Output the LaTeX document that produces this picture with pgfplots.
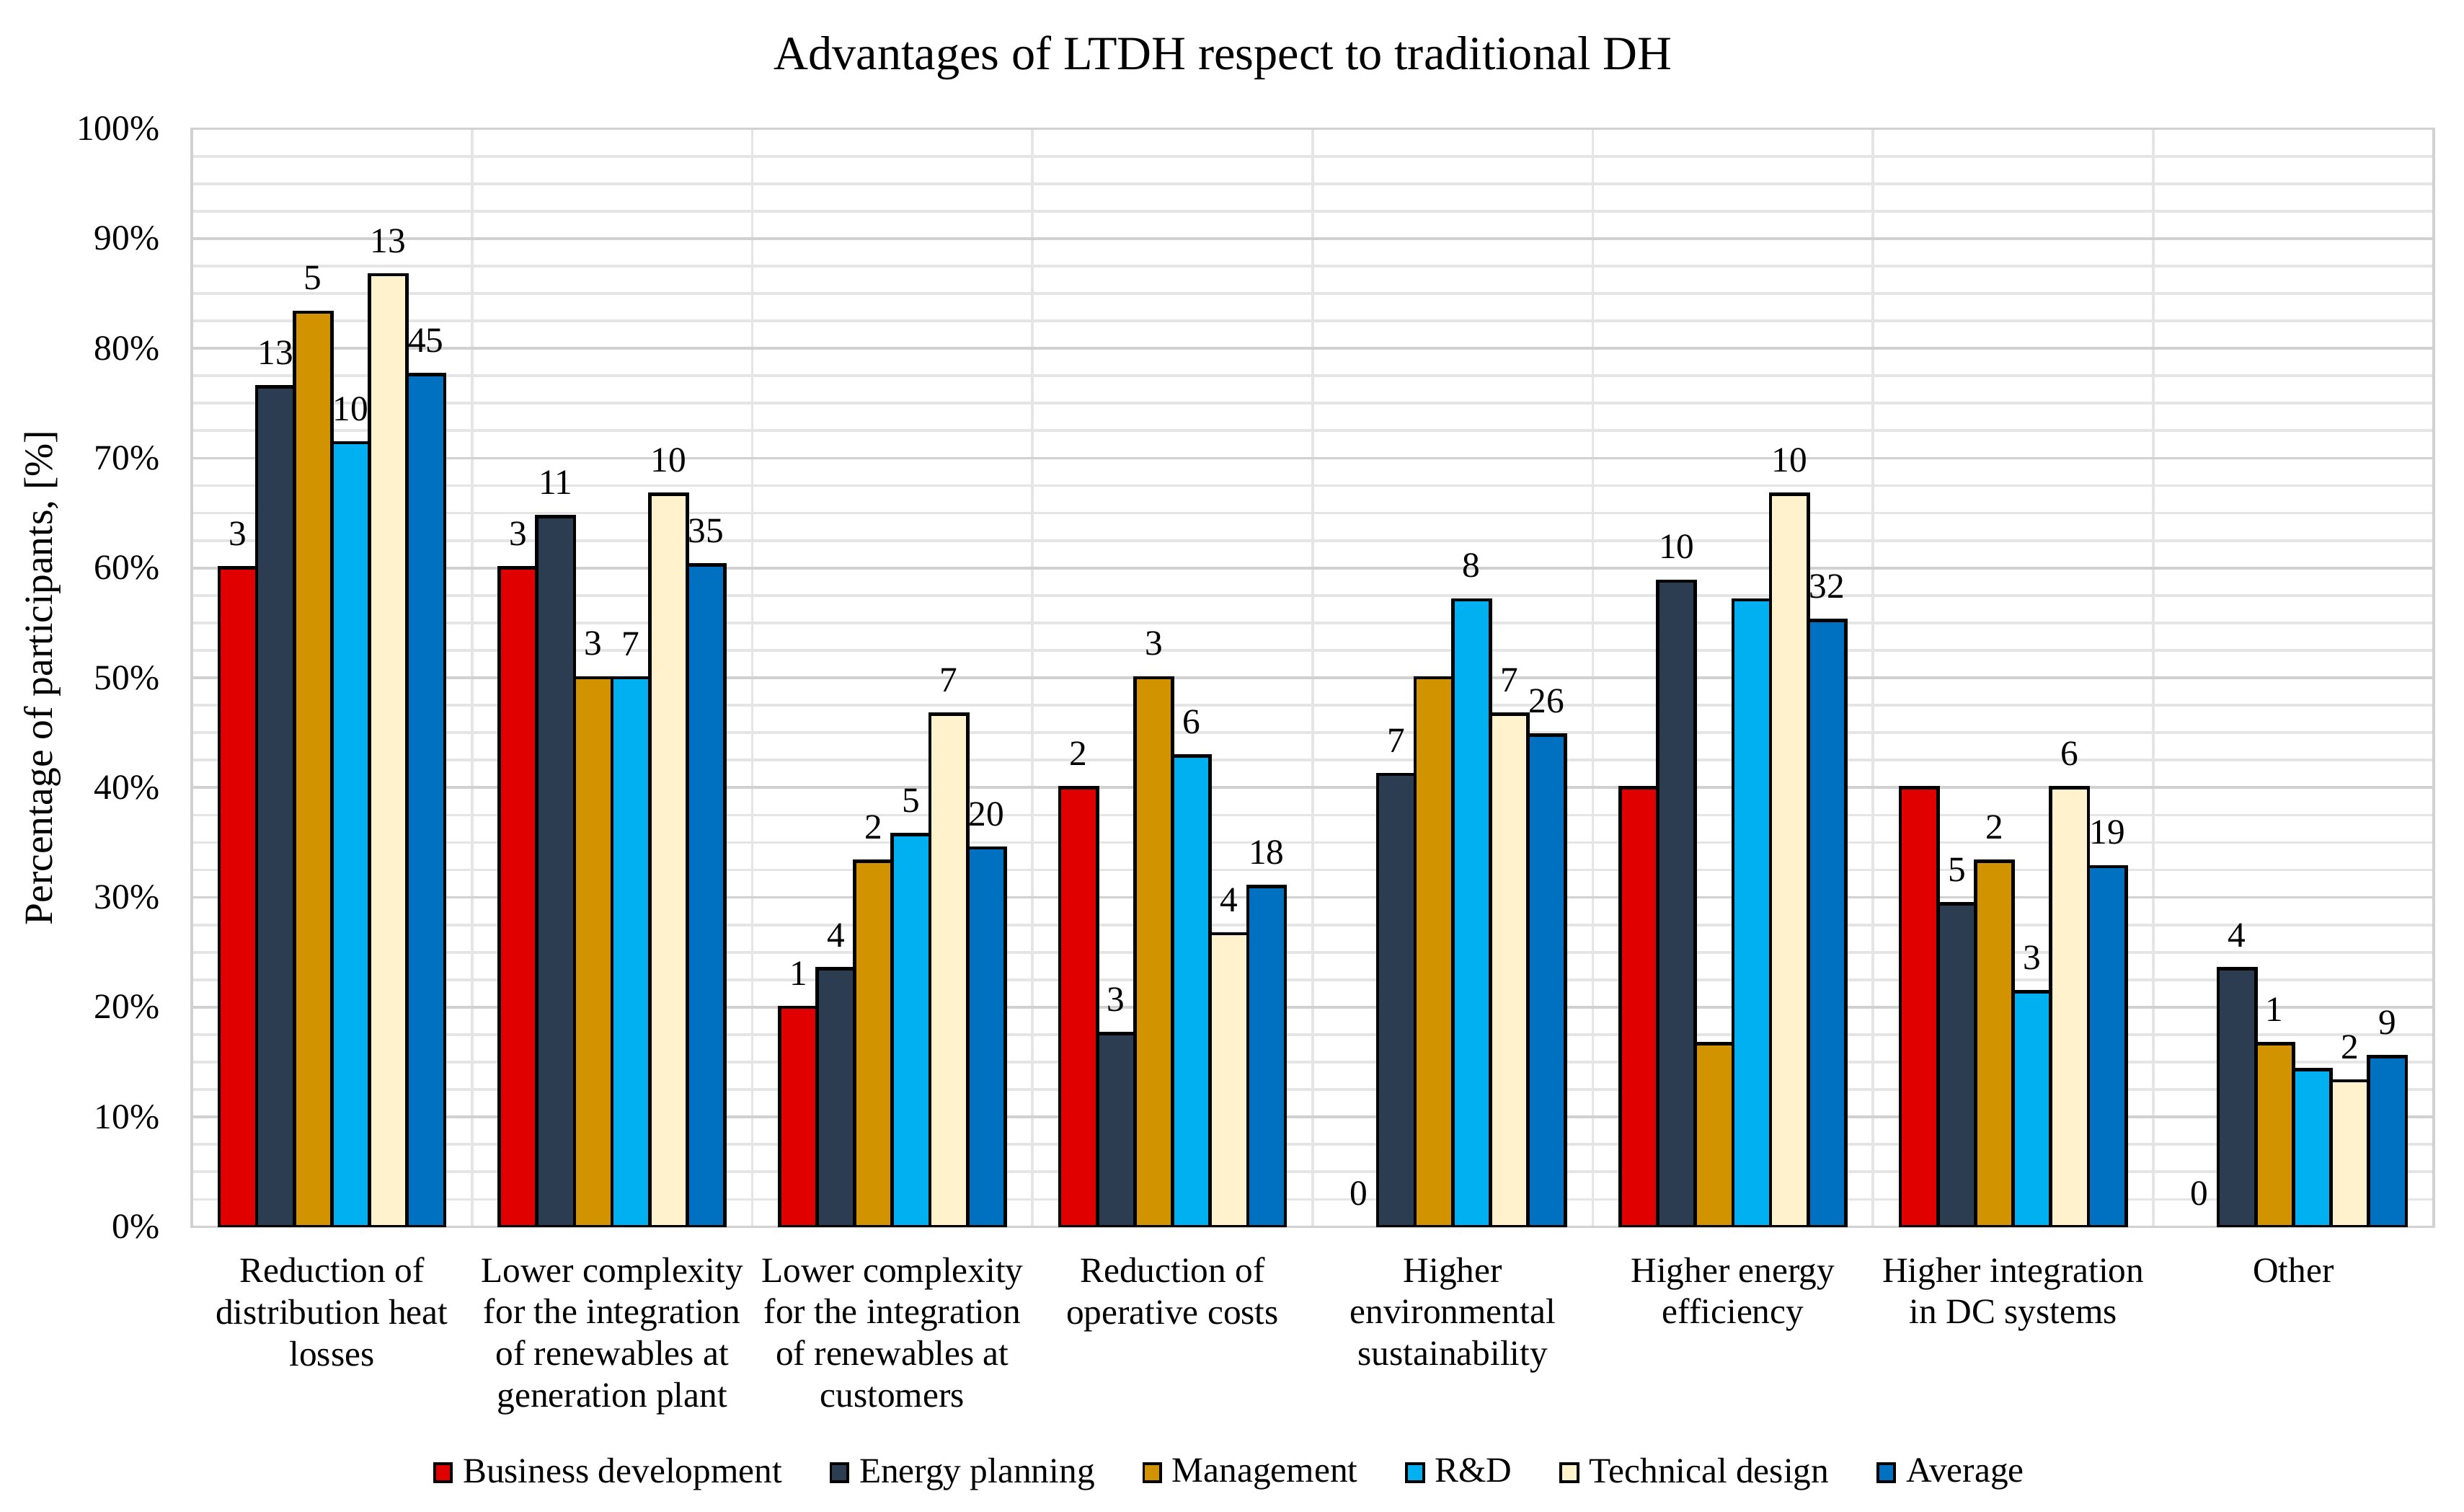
\documentclass[border=0pt]{standalone}
\usepackage{fontspec}
\setmainfont{Liberation Serif}
\usepackage{pgfplots}
\pgfplotsset{compat=1.18}

\definecolor{cBD}{HTML}{E00000}
\definecolor{cEP}{HTML}{2C3D51}
\definecolor{cMG}{HTML}{D19400}
\definecolor{cRD}{HTML}{00B0F0}
\definecolor{cTD}{HTML}{FFF2CC}
\definecolor{cAV}{HTML}{0070C0}

\pgfplotsset{
  sq legend/.style={legend image code/.code={%
    \draw[##1,line width=0.8pt] (0pt,-2.6pt) rectangle (5pt,2.6pt);}},
  barsty/.style={fill=#1, draw=black, line width=1pt, sq legend},
}

\begin{document}
\begin{tikzpicture}
\useasboundingbox (-56.6pt,-84pt) rectangle (670.6pt,362pt);
\begin{axis}[
  at={(0,0)}, anchor=south west,
  scale only axis, width=661.6pt, height=324pt,
  ybar=0pt, bar width=11.1pt,
  xmin=-0.5, xmax=7.5, ymin=0, ymax=100,
  /pgf/number format/assume math mode=true,
  xtick={0,...,7},
  xticklabels={{Reduction of\\distribution heat\\losses},
    {Lower complexity\\for the integration\\of renewables at\\generation plant},
    {Lower complexity\\for the integration\\of renewables at\\customers},
    {Reduction of\\operative costs},
    {Higher\\environmental\\sustainability},
    {Higher energy\\efficiency},
    {Higher integration\\in DC systems},
    {Other}},
  minor xtick={0.5,1.5,...,6.5},
  ytick={0,10,...,100}, minor y tick num=3,
  yticklabel={\pgfmathprintnumber{\tick}\%},
  ymajorgrids, yminorgrids, xminorgrids,
  major grid style={draw=black!18, line width=0.8pt},
  minor grid style={draw=black!10, line width=0.8pt},
  axis line style={draw=black!18, line width=0.8pt},
  tick style={draw=none},
  xticklabel style={align=center, anchor=north, yshift=-1.2pt,
    font=\fontsize{10.5}{12.3}\selectfont},
  yticklabel style={anchor=east, xshift=-6pt, font=\fontsize{10.5}{12}\selectfont},
  ylabel={Percentage of participants, [\%]},
  ylabel style={at={(axis description cs:-0.0667,0.5)}, anchor=center,
    font=\fontsize{11.8}{13}\selectfont},
  title={Advantages of LTDH respect to traditional DH},
  title style={at={(0.46,1)}, anchor=center, yshift=14.9pt,
    font=\fontsize{14.1}{16}\selectfont},
  point meta=explicit symbolic,
  nodes near coords,
  every node near coord/.append style={font=\fontsize{10.5}{12}\selectfont,
    anchor=south, inner sep=2.5pt, yshift=3.5pt, text=black},
  legend columns=-1,
  legend style={at={(0.464,-0.224)}, anchor=center, draw=none, fill=none,
    font=\fontsize{10.5}{12}\selectfont,
    /tikz/every even column/.append style={column sep=12pt},
    /tikz/every odd column/.append style={column sep=1pt}},
]
% Business development
\addplot[barsty=cBD, bar shift=-27.75pt] coordinates {
  (0,60) [3] (1,60) [3] (2,20) [1] (3,40) [2]
  (5,40) [{}] (6,40) [{}]
};
\addlegendentry{Business development}
% Energy planning
\addplot[barsty=cEP, bar shift=-16.65pt] coordinates {
  (0,76.5) [13] (1,64.7) [11] (2,23.5) [4] (3,17.6) [3]
  (4,41.2) [7] (5,58.8) [10] (6,29.4) [5] (7,23.5) [4]
};
\addlegendentry{Energy planning}
% Management
\addplot[barsty=cMG, bar shift=-5.55pt] coordinates {
  (0,83.3) [5] (1,50) [3] (2,33.3) [2] (3,50) [3]
  (4,50) [{}] (5,16.7) [{}] (6,33.3) [2] (7,16.7) [1]
};
\addlegendentry{Management}
% R&D
\addplot[barsty=cRD, bar shift=5.55pt] coordinates {
  (0,71.4) [10] (1,50) [7] (2,35.7) [5] (3,42.9) [6]
  (4,57.1) [8] (5,57.1) [{}] (6,21.4) [3] (7,14.3) [{}]
};
\addlegendentry{R\&D}
% Technical design
\addplot[barsty=cTD, bar shift=16.65pt] coordinates {
  (0,86.7) [13] (1,66.7) [10] (2,46.7) [7] (3,26.7) [4]
  (4,46.7) [7] (5,66.7) [10] (6,40) [6] (7,13.3) [2]
};
\addlegendentry{Technical design}
% Average
\addplot[barsty=cAV, bar shift=27.75pt] coordinates {
  (0,77.6) [45] (1,60.3) [35] (2,34.5) [20] (3,31.0) [18]
  (4,44.8) [26] (5,55.2) [32] (6,32.8) [19] (7,15.5) [9]
};
\addlegendentry{Average}
% Business development, zero answers (label only, no visible bar)
\addplot[draw=none, fill=none, bar shift=-27.75pt, forget plot] coordinates {
  (4,0) [0] (7,0) [0]
};
\end{axis}
\end{tikzpicture}
\end{document}
